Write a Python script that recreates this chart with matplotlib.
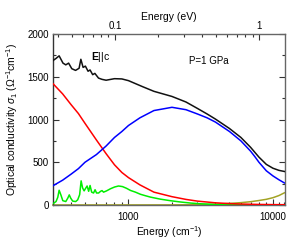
import matplotlib
matplotlib.use("Agg")
import matplotlib.pyplot as plt
from matplotlib.ticker import FixedLocator, NullFormatter, FixedFormatter

plt.rcParams['font.family'] = ['Liberation Sans', 'DejaVu Sans']
plt.rcParams['mathtext.fontset'] = 'custom'
plt.rcParams['mathtext.rm'] = 'Liberation Sans'
plt.rcParams['mathtext.it'] = 'Liberation Sans:italic'
plt.rcParams['mathtext.bf'] = 'Liberation Sans:bold'

# ---- data (energy in cm^-1, conductivity in Ohm^-1 cm^-1) ----
total_E = [300, 315, 331, 342, 352, 368, 385, 405, 430, 455, 468, 485, 503, 525, 542,
           565, 585, 620, 656, 700, 800, 900, 1000, 1250, 1500, 2000, 2500, 3000,
           3500, 4000, 5000, 6000, 7000, 8000, 9000, 10000, 11000, 12000]
total_S = [1690, 1715, 1745, 1700, 1660, 1640, 1660, 1595, 1575, 1600, 1705, 1610, 1625, 1565, 1580,
           1525, 1540, 1485, 1470, 1460, 1478, 1475, 1455, 1385, 1330, 1270, 1205, 1130,
           1065, 1005, 895, 790, 675, 560, 475, 430, 405, 392]

drude_E = [300, 350, 400, 450, 500, 600, 700, 800, 900, 1000, 1200, 1500, 2000, 2500,
           3000, 4000, 5000, 6000, 8000, 10000, 12000]
drude_S = [1420, 1300, 1175, 1070, 955, 760, 600, 470, 380, 320, 235, 150, 97, 65,
           45, 25, 16, 11, 6, 4, 3]

mir_E = [300, 350, 400, 450, 500, 600, 700, 800, 900, 1000, 1200, 1500, 2000, 2500,
         3000, 3500, 4000, 5000, 6000, 7000, 7500, 8000, 9000, 10000, 11000, 12000]
mir_S = [225, 290, 360, 425, 500, 590, 690, 790, 860, 930, 1020, 1105, 1143, 1115,
         1065, 1020, 970, 860, 750, 630, 565, 500, 400, 340, 295, 258]

phonon_E = [300, 315, 324, 331, 340, 351, 368, 380, 389, 398, 411, 431, 445, 459, 470,
            481, 493, 505, 517, 530, 542, 556, 573, 587, 601, 621, 641, 656, 672, 705,
            751, 801, 853, 909, 969, 1032, 1117, 1210, 1310, 1418, 1662, 1948, 2283,
            2700, 3136, 4000, 5915, 12000]
phonon_S = [15, 40, 90, 172, 120, 50, 40, 80, 118, 80, 45, 40, 60, 120, 282,
            200, 165, 195, 222, 160, 228, 150, 140, 178, 140, 140, 160, 168, 150, 165,
            190, 210, 222, 215, 195, 170, 150, 125, 108, 92, 68, 50, 35,
            22, 14, 6, 2, 1]

interband_E = [300, 1000, 2000, 3000, 4000, 5000, 6000, 7000, 8000, 9000, 10000, 11000, 12000]
interband_S = [0, 0.5, 1, 3, 8, 18, 27, 38, 52, 66, 85, 110, 142]

x_ticks = [1000, 10000]
x_ticklabels = ['1000', '10000']
y_ticks = [0, 500, 1000, 1500, 2000]
ev_ticks = [0.1, 1]
ev_ticklabels = ['0.1', '1']

CM_PER_EV = 8065.54

fig = plt.figure(figsize=(2.91, 2.40), dpi=100)
ax = fig.add_axes([0.182, 0.146, 0.797, 0.712])

ax.plot(interband_E, interband_S, color='#a3a324', lw=1.1, zorder=2, clip_on=False)
ax.plot(phonon_E, phonon_S, color='#00ee00', lw=1.1, zorder=3)
ax.plot(drude_E, drude_S, color='#ff0000', lw=1.1, zorder=4)
ax.plot(mir_E, mir_S, color='#0000ff', lw=1.1, zorder=5)
ax.plot(total_E, total_S, color='#111111', lw=1.1, zorder=6)

ax.set_xscale('log')
ax.set_xlim(300, 12100)
ax.set_ylim(0, 2000)

ax.xaxis.set_major_locator(FixedLocator(x_ticks))
ax.xaxis.set_major_formatter(FixedFormatter(x_ticklabels))
minors = [m * d for d in (100, 1000) for m in range(2, 10)] + [11000, 12000]
ax.xaxis.set_minor_locator(FixedLocator(minors))
ax.xaxis.set_minor_formatter(NullFormatter())
ax.yaxis.set_major_locator(FixedLocator(y_ticks))
ax.yaxis.set_minor_locator(FixedLocator([250, 750, 1250, 1750]))

ax.tick_params(which='both', direction='in', top=False, right=True, labelsize=7,
               color='#333333')
ax.tick_params(axis='x', pad=5)
ax.tick_params(axis='y', pad=3)
ax.tick_params(which='major', length=4, width=0.8)
ax.tick_params(which='minor', length=2.5, width=0.8)

for s in ax.spines.values():
    s.set_color('#666666')
    s.set_linewidth(1.0)
ax.spines['left'].set_color('#333333')

sec = ax.secondary_xaxis('top', functions=(lambda x: x / CM_PER_EV, lambda e: e * CM_PER_EV))
sec.set_xscale('log')
sec.xaxis.set_major_locator(FixedLocator(ev_ticks))
sec.xaxis.set_major_formatter(FixedFormatter(ev_ticklabels))
sec.xaxis.set_minor_locator(FixedLocator([0.04, 0.05, 0.06, 0.07, 0.08, 0.09,
                                          0.2, 0.3, 0.4, 0.5, 0.6, 0.7, 0.8, 0.9]))
sec.xaxis.set_minor_formatter(NullFormatter())
sec.tick_params(which='both', direction='in', labelsize=7, color='#333333', pad=2)
sec.tick_params(which='major', length=4, width=0.8)
sec.tick_params(which='minor', length=2.5, width=0.8)
sec.spines['top'].set_visible(False)
sec.set_xlabel('Energy (eV)', fontsize=7.5, labelpad=1)

ax.set_xlabel('Energy (cm$^{-1}$)', fontsize=7.5, labelpad=2)
ax.set_ylabel('Optical conductivity $\\sigma_1$ ($\\Omega^{-1}$cm$^{-1}$)', fontsize=7.5, labelpad=5)

ax.text(0.164, 0.865, '$\\mathbf{E}$||c', transform=ax.transAxes, fontsize=7.5,
        va='center', ha='left')
ax.text(0.672, 0.842, 'P=1 GPa', transform=ax.transAxes, fontsize=7,
        va='center', ha='center')

fig.savefig('out.png', dpi=100)
